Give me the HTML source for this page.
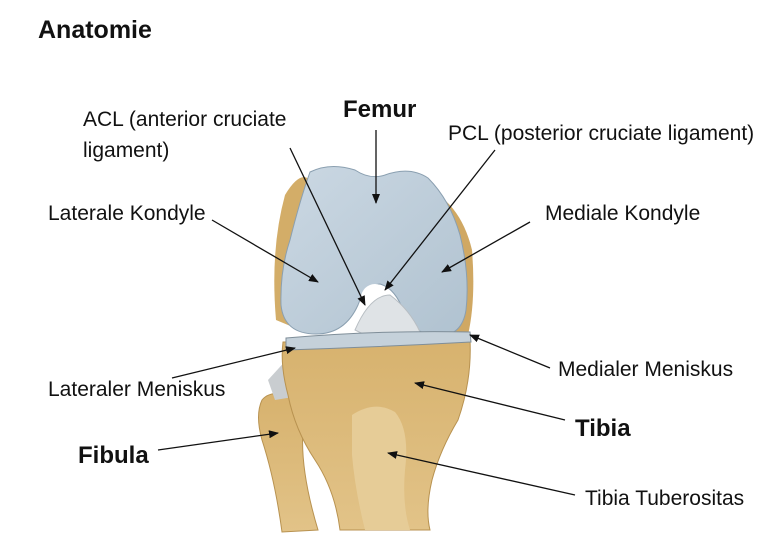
<!DOCTYPE html>
<html><head><meta charset="utf-8"><style>
body{margin:0;background:#fff;width:774px;height:538px;overflow:hidden}
svg{display:block}
text{font-family:"Liberation Sans",sans-serif;fill:#111}
</style></head><body>
<svg width="774" height="538" viewBox="0 0 774 538">
<defs>
<marker id="a" markerWidth="10" markerHeight="8" refX="9" refY="4" orient="auto" markerUnits="userSpaceOnUse"><path d="M0,0L10,4L0,8z" fill="#111"/></marker>
<linearGradient id="b" x1="0" y1="0" x2="1" y2="1"><stop offset="0" stop-color="#cbd8e3"/><stop offset="1" stop-color="#b0c2d0"/></linearGradient>
<linearGradient id="t" x1="0" y1="0" x2="0" y2="1"><stop offset="0" stop-color="#d7b26e"/><stop offset="1" stop-color="#e2c388"/></linearGradient>
</defs>
<!-- fibula -->
<path d="M262,400 Q270,390 290,395 Q305,405 303,430 Q300,470 318,530 L282,532 Q275,480 262,440 Q255,415 262,400z" fill="url(#t)" stroke="#b89250" stroke-width="1"/>
<path d="M268,380 L300,345 L305,395 L275,400z" fill="#c9cdd0"/>
<!-- tibia -->
<path d="M283,342 L470,340 Q472,380 458,420 Q440,450 432,480 Q425,510 430,530 L340,530 Q335,490 315,460 Q295,430 288,395 Q280,365 283,342z" fill="url(#t)" stroke="#b89250" stroke-width="1"/>
<path d="M352,415 Q375,400 395,412 Q410,430 405,470 Q402,505 410,530 L365,530 Q355,490 352,455z" fill="#e6cc97"/>
<!-- posterior tan edges -->
<path d="M285,195 Q300,170 310,180 L300,330 L276,320 Q270,250 285,195z" fill="#d3ad68"/>
<path d="M420,185 Q460,200 472,250 Q476,300 468,335 L440,330z" fill="#d0a863"/>
<!-- femur -->
<path d="M310,172 Q330,162 355,170 Q370,180 385,175 Q410,166 428,178 Q450,200 460,235 Q470,275 466,310 Q462,336 438,336 Q415,336 404,312 Q395,288 380,284 Q365,285 358,305 Q345,334 316,334 Q284,334 281,305 Q280,270 290,240 Q300,200 310,172z" fill="url(#b)" stroke="#8a9fb0" stroke-width="1"/>
<ellipse cx="375" cy="298" rx="14" ry="14" fill="#fff"/>
<path d="M355,330 Q370,295 390,295 Q410,310 420,332 L400,335 Q380,330 365,335z" fill="#dfe3e6" stroke="#b8bec3"/>
<!-- meniscus -->
<path d="M286,338 Q380,330 470,332 L471,342 Q380,347 286,350z" fill="#c5d1da" stroke="#7f8e99" stroke-width="1"/>
<!-- texts -->
<text x="38" y="38" font-size="25" font-weight="bold">Anatomie</text>
<text x="83" y="126" font-size="21">ACL (anterior cruciate</text>
<text x="83" y="157" font-size="21">ligament)</text>
<text x="343" y="117" font-size="24" font-weight="bold">Femur</text>
<text x="448" y="140" font-size="21">PCL (posterior cruciate ligament)</text>
<text x="48" y="220" font-size="21">Laterale Kondyle</text>
<text x="545" y="220" font-size="21">Mediale Kondyle</text>
<text x="48" y="396" font-size="21">Lateraler Meniskus</text>
<text x="558" y="376" font-size="21">Medialer Meniskus</text>
<text x="575" y="436" font-size="24" font-weight="bold">Tibia</text>
<text x="78" y="463" font-size="24" font-weight="bold">Fibula</text>
<text x="585" y="505" font-size="21">Tibia Tuberositas</text>
<g stroke="#111" stroke-width="1.3" marker-end="url(#a)">
<line x1="376" y1="130" x2="376" y2="203"/>
<line x1="290" y1="148" x2="365" y2="305"/>
<line x1="495" y1="150" x2="385" y2="290"/>
<line x1="212" y1="220" x2="318" y2="282"/>
<line x1="530" y1="222" x2="442" y2="272"/>
<line x1="172" y1="378" x2="295" y2="348"/>
<line x1="550" y1="368" x2="470" y2="335"/>
<line x1="565" y1="420" x2="415" y2="383"/>
<line x1="158" y1="450" x2="278" y2="433"/>
<line x1="575" y1="495" x2="388" y2="453"/>
</g>
</svg>
</body></html>
